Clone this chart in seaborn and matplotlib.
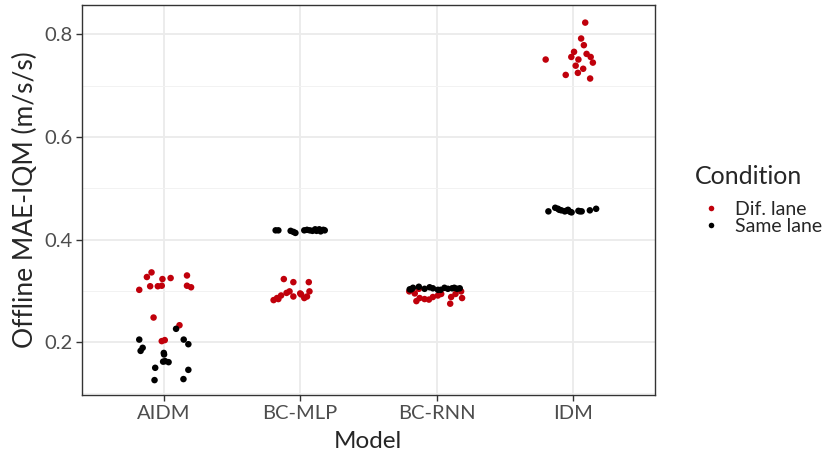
import numpy as np
import pandas as pd
import matplotlib
matplotlib.use("Agg")
import matplotlib.pyplot as plt
import seaborn as sns

# categories and per-model readings (value, horizontal jitter)
models = ["AIDM", "BC-MLP", "BC-RNN", "IDM"]
conditions = ["Dif. lane", "Same lane"]

aidm_dif = [0.336, 0.327, 0.323, 0.325, 0.330, 0.302, 0.309, 0.309, 0.310, 0.310,
            0.307, 0.248, 0.233, 0.202, 0.204]
aidm_dif_jit = [-0.09, -0.124, -0.01, 0.05, 0.17, -0.18, -0.10, -0.044, -0.015, 0.17,
                0.20, -0.075, 0.115, -0.015, 0.007]
aidm_same = [0.226, 0.205, 0.205, 0.196, 0.189, 0.183, 0.179, 0.176, 0.162, 0.161,
             0.150, 0.146, 0.126, 0.128, 0.163]
aidm_same_jit = [0.09, -0.18, 0.146, 0.18, -0.155, -0.17, 0.0, 0.002, -0.005, 0.035,
                 -0.063, 0.18, -0.068, 0.144, 0.01]

mlp_dif = [0.323, 0.317, 0.317, 0.282, 0.286, 0.291, 0.296, 0.299, 0.289, 0.293,
           0.286, 0.289, 0.299, 0.284, 0.295]
mlp_dif_jit = [-0.12, -0.05, 0.063, -0.195, -0.17, -0.14, -0.10, -0.078, -0.05, 0.007,
               0.03, 0.05, 0.068, -0.16, 0.0]
mlp_same = [0.418, 0.418, 0.417, 0.415, 0.413, 0.418, 0.419, 0.418, 0.417, 0.420,
            0.417, 0.420, 0.416, 0.419, 0.418]
mlp_same_jit = [-0.18, -0.16, -0.07, -0.05, -0.035, 0.03, 0.05, 0.07, 0.09, 0.11,
                0.12, 0.14, 0.15, 0.17, 0.18]

rnn_dif = [0.299, 0.295, 0.304, 0.280, 0.286, 0.283, 0.288, 0.291, 0.294, 0.275,
           0.288, 0.294, 0.299, 0.286, 0.284]
rnn_dif_jit = [-0.2, -0.16, -0.13, -0.148, -0.124, -0.056, -0.027, 0.01, 0.034, 0.1,
               0.107, 0.139, 0.18, 0.187, -0.088]
rnn_same = [0.303, 0.306, 0.308, 0.304, 0.307, 0.305, 0.302, 0.306, 0.304, 0.305,
            0.303, 0.306, 0.304, 0.305, 0.302]
rnn_same_jit = [-0.197, -0.173, -0.13, -0.088, -0.051, -0.027, 0.01, 0.058, 0.083, 0.114,
                -0.185, 0.13, 0.15, 0.17, 0.03]

idm_dif = [0.823, 0.792, 0.779, 0.766, 0.756, 0.751, 0.762, 0.756, 0.745, 0.751,
           0.739, 0.733, 0.725, 0.721, 0.714]
idm_dif_jit = [0.09, 0.06, 0.08, 0.008, -0.012, 0.04, 0.10, 0.13, 0.146, -0.2,
               0.02, 0.075, 0.036, -0.053, 0.126]
idm_same = [0.455, 0.462, 0.460, 0.457, 0.455, 0.458, 0.454, 0.456, 0.455, 0.457,
            0.460, 0.458, 0.456, 0.453, 0.455]
idm_same_jit = [-0.18, -0.13, -0.11, -0.085, -0.06, -0.036, -0.02, 0.04, 0.064, 0.124,
                0.17, -0.1, -0.05, -0.01, 0.05]

values = [(aidm_dif, aidm_dif_jit, aidm_same, aidm_same_jit),
          (mlp_dif, mlp_dif_jit, mlp_same, mlp_same_jit),
          (rnn_dif, rnn_dif_jit, rnn_same, rnn_same_jit),
          (idm_dif, idm_dif_jit, idm_same, idm_same_jit)]

rows = []
for i, (m, (d, dj, s, sj)) in enumerate(zip(models, values)):
    for v, j in zip(d, dj):
        rows.append({"Model": m, "pos": i + 1 + j, "MAE": v, "Condition": "Dif. lane"})
    for v, j in zip(s, sj):
        rows.append({"Model": m, "pos": i + 1 + j, "MAE": v, "Condition": "Same lane"})
df = pd.DataFrame(rows)

sns.set_style("white")
plt.rcParams["font.family"] = ["Lato", "DejaVu Sans"]

fig = plt.figure(figsize=(8.23, 4.57), dpi=100)
ax = fig.add_axes([0.0996, 0.1357, 0.696, 0.853])

sns.scatterplot(data=df, x="pos", y="MAE", hue="Condition", hue_order=conditions,
                palette={"Dif. lane": "#C0000B", "Same lane": "black"},
                s=22, linewidth=0, ax=ax, legend=False, zorder=3)

ax.set_xlim(0.4, 4.6)
ax.set_ylim(0.097, 0.857)
ax.set_xticks(range(1, 5))
ax.set_xticklabels(models)
ax.set_yticks([0.2, 0.4, 0.6, 0.8])
ax.set_yticklabels(["0.2", "0.4", "0.6", "0.8"])
ax.set_yticks([0.1, 0.3, 0.5, 0.7], minor=True)
ax.grid(which="major", color="#EBEBEB", linewidth=1.3)
ax.grid(which="minor", axis="y", color="#F2F2F2", linewidth=0.7)
ax.set_axisbelow(True)
for sp in ax.spines.values():
    sp.set_color("#333333")
    sp.set_linewidth(1.0)
ax.tick_params(axis="both", which="major", length=4, width=1, color="#333333",
               labelsize=14.5, labelcolor="#4D4D4D", pad=3, bottom=True, left=True)
ax.tick_params(axis="y", which="minor", length=0)
ax.set_xlabel("Model", fontsize=17.5, labelpad=7)
ax.set_ylabel("Offline MAE-IQM (m/s/s)", fontsize=19, labelpad=4)

# legend
handles = [plt.Line2D([], [], marker="o", linestyle="", markersize=4,
                      markerfacecolor=c, markeredgewidth=0)
           for c in ["#C0000B", "black"]]
leg = fig.legend(handles, conditions, title="Condition", loc="upper left",
                 bbox_to_anchor=(0.835, 0.655), frameon=False, fontsize=14,
                 title_fontsize=18, handletextpad=0.45, labelspacing=0.0,
                 handlelength=1.6, borderaxespad=0)
leg._legend_box.align = "left"
leg._legend_box.sep = 9

fig.savefig("out.png", dpi=100)
